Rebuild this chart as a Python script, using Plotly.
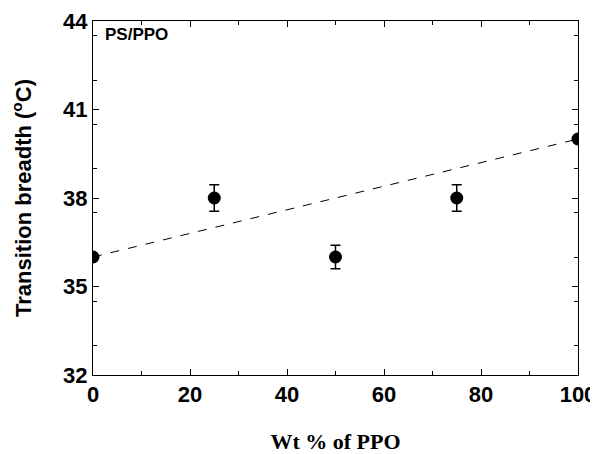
import plotly.graph_objects as go

wt_ppo = [0, 25, 50, 75, 100]
breadth = [36, 38, 36, 38, 40]
breadth_err = [0, 0.45, 0.4, 0.45, 0]
fit_x = [0, 100]
fit_y = [36, 40]
x_ticks = [0, 20, 40, 60, 80, 100]
y_ticks = [32, 35, 38, 41, 44]

fig = go.Figure()
fig.add_trace(go.Scatter(x=fit_x, y=fit_y, mode="lines", cliponaxis=True,
                         line=dict(color="black", width=1, dash="9px,9px"),
                         showlegend=False))
fig.add_trace(go.Scatter(x=wt_ppo, y=breadth, mode="markers", cliponaxis=True,
                         marker=dict(color="black", size=13),
                         error_y=dict(type="data", array=breadth_err, color="black",
                                      thickness=1.5, width=5),
                         showlegend=False))

axis_common = dict(showgrid=False, zeroline=False, showline=True, linecolor="black",
                   linewidth=1, mirror="ticks", ticks="inside", ticklen=6,
                   tickcolor="black", automargin=False, layer="above traces",
                   tickfont=dict(family="Liberation Sans", size=22, color="black",
                                 weight="bold"))
fig.update_xaxes(range=[0, 100], tickvals=x_ticks,
                 minor=dict(dtick=10, ticks="inside", ticklen=4, tickcolor="black"),
                 title=dict(text="Wt % of PPO", standoff=32,
                            font=dict(family="Liberation Serif", size=22,
                                      color="black", weight="bold")),
                 **axis_common)
fig.update_yaxes(range=[32, 44], tickvals=y_ticks,
                 minor=dict(dtick=1.5, ticks="inside", ticklen=4, tickcolor="black"),
                 title=dict(text="Transition breadth (<sup>o</sup>C)", standoff=26,
                            font=dict(family="Liberation Sans", size=22,
                                      color="black", weight="bold")),
                 **axis_common)
fig.add_annotation(x=0.02, y=0.963, xref="paper", yref="paper", text="<b>PS/PPO</b>",
                   showarrow=False, xanchor="left", yanchor="middle",
                   font=dict(family="Liberation Sans", size=17, color="black"))
fig.update_layout(width=590, height=446, plot_bgcolor="white", paper_bgcolor="white",
                  margin=dict(l=85, r=20, t=13, b=79))
fig.write_html("out.html")
